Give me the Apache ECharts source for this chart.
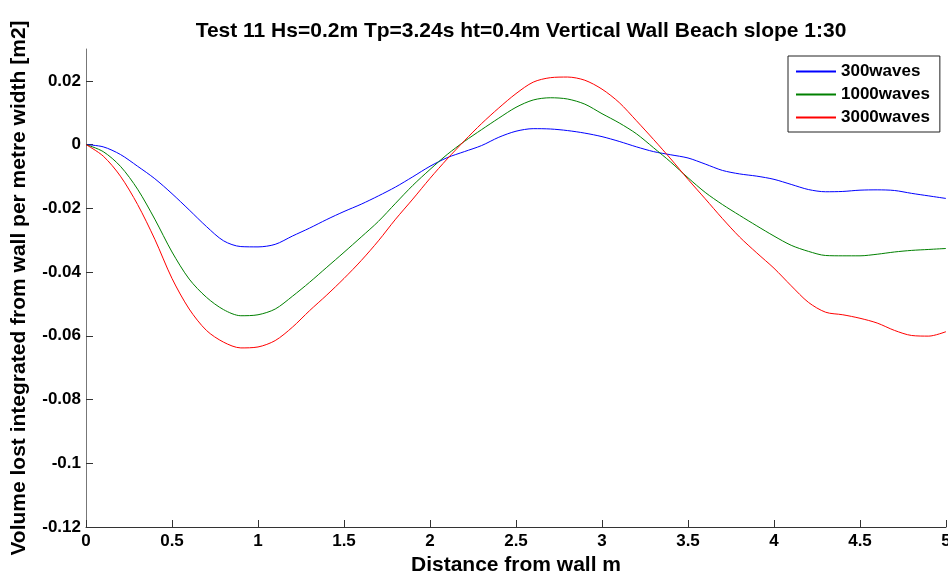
<!DOCTYPE html>
<html>
<head>
<meta charset="utf-8">
<script src="https://cdn.jsdelivr.net/npm/echarts@6/dist/echarts.min.js"></script>
<style>html,body{margin:0;padding:0;background:#fff}#c{width:948px;height:572px}</style>
</head>
<body>
<div id="c"></div>
<script>
const titleText = 'Test 11 Hs=0.2m Tp=3.24s ht=0.4m Vertical Wall Beach slope 1:30';
const xName = 'Distance from wall m';
const yName = 'Volume lost integrated from wall per metre width [m2]';
const seriesNames = ['300waves', '1000waves', '3000waves'];
const distance = [0, 0.1, 0.2, 0.3, 0.4, 0.5, 0.6, 0.7, 0.8, 0.9, 1.0, 1.1, 1.2, 1.3, 1.4, 1.5, 1.6, 1.7, 1.8, 1.9, 2.0, 2.1, 2.2, 2.3, 2.4, 2.5, 2.6, 2.7, 2.8, 2.9, 3.0, 3.1, 3.2, 3.3, 3.4, 3.5, 3.6, 3.7, 3.8, 3.9, 4.0, 4.1, 4.2, 4.3, 4.4, 4.5, 4.6, 4.7, 4.8, 4.9, 5.0];
const waves300 = [0, -0.0007, -0.0031, -0.0068, -0.0107, -0.0154, -0.0205, -0.0257, -0.0302, -0.032, -0.0321, -0.0313, -0.0287, -0.0262, -0.0235, -0.021, -0.0187, -0.0161, -0.0133, -0.0101, -0.0068, -0.0041, -0.0022, -0.0003, 0.0023, 0.0042, 0.005, 0.0049, 0.0044, 0.0036, 0.0025, 0.001, -0.0007, -0.0022, -0.0032, -0.0042, -0.0061, -0.0081, -0.0092, -0.0099, -0.0109, -0.0125, -0.0141, -0.0148, -0.0147, -0.0143, -0.0142, -0.0144, -0.0153, -0.0161, -0.0169];
const waves1000 = [0, -0.0022, -0.0068, -0.014, -0.0234, -0.0337, -0.0422, -0.0479, -0.0518, -0.0537, -0.0534, -0.0516, -0.0476, -0.0432, -0.0385, -0.0338, -0.029, -0.0241, -0.0184, -0.0128, -0.0078, -0.0031, 0.001, 0.0047, 0.0083, 0.0117, 0.014, 0.0147, 0.0143, 0.0127, 0.0097, 0.0068, 0.0034, -0.001, -0.0055, -0.0104, -0.015, -0.0188, -0.0222, -0.0255, -0.0287, -0.0316, -0.0335, -0.0348, -0.0349, -0.0349, -0.0344, -0.0337, -0.0332, -0.0329, -0.0326];
const waves3000 = [0, -0.0036, -0.0099, -0.0188, -0.0297, -0.042, -0.0516, -0.0583, -0.062, -0.0638, -0.0635, -0.0615, -0.0573, -0.0521, -0.0472, -0.042, -0.0364, -0.0302, -0.0234, -0.0171, -0.0106, -0.0045, 0.0012, 0.0066, 0.0115, 0.016, 0.0196, 0.021, 0.0212, 0.0202, 0.0174, 0.0132, 0.0075, 0.0016, -0.0045, -0.0109, -0.017, -0.0232, -0.029, -0.034, -0.0388, -0.0443, -0.0495, -0.0526, -0.0534, -0.0545, -0.056, -0.0583, -0.0599, -0.0601, -0.0587];
const colors = ['#0000ff', '#008000', '#ff0000'];

const allValues = [waves300, waves1000, waves3000];
const chart = echarts.init(document.getElementById('c'));
const font = 'Arial, "Liberation Sans", sans-serif';
chart.setOption({
  animation: false,
  backgroundColor: '#fff',
  title: {
    text: titleText, left: 516, textAlign: 'center', top: 16,
    textStyle: {fontFamily: font, fontWeight: 'bold', fontSize: 21, color: '#000'}
  },
  legend: {
    orient: 'vertical', left: 788, top: 56,
    padding: [7, 10, 6, 8], itemGap: 6, itemWidth: 40, itemHeight: 2,
    icon: 'rect', borderColor: '#222', borderWidth: 1, backgroundColor: '#fff',
    textStyle: {fontFamily: font, fontWeight: 'bold', fontSize: 17, color: '#000', lineHeight: 16},
    data: seriesNames
  },
  grid: {left: 86, right: 2, top: 49, bottom: 45, containLabel: false, outerBoundsMode: 'none'},
  xAxis: {
    type: 'value', min: 0, max: 5, interval: 0.5,
    name: xName, nameLocation: 'middle', nameGap: 23,
    nameTextStyle: {fontFamily: font, fontWeight: 'bold', fontSize: 21, color: '#000'},
    axisLine: {onZero: false, lineStyle: {color: '#333', width: 1}},
    axisTick: {inside: true, length: 7, lineStyle: {color: '#333'}},
    axisLabel: {fontFamily: font, fontWeight: 'bold', fontSize: 17, color: '#000', margin: 6},
    splitLine: {show: false}
  },
  yAxis: {
    type: 'value', min: -0.12, max: 0.03, interval: 0.02,
    name: yName, nameLocation: 'middle', nameGap: 56,
    nameTextStyle: {fontFamily: font, fontWeight: 'bold', fontSize: 21, color: '#000'},
    axisLine: {show: true, onZero: false, lineStyle: {color: '#777', width: 1}},
    axisTick: {show: true, inside: true, length: 7, lineStyle: {color: '#333'}},
    axisLabel: {fontFamily: font, fontWeight: 'bold', fontSize: 17, color: '#000', margin: 5, showMaxLabel: false,
      formatter: v => (Math.abs(v - 0.03) < 1e-9 ? '' : String(Math.round(v * 100) / 100))},
    splitLine: {show: false}
  },
  series: seriesNames.map((n, i) => ({
    name: n, type: 'line', smooth: 0.3, symbol: 'none',
    lineStyle: {color: colors[i], width: 1},
    itemStyle: {color: colors[i]},
    data: distance.map((d, j) => [d, allValues[i][j]])
  }))
});
</script>
</body>
</html>
